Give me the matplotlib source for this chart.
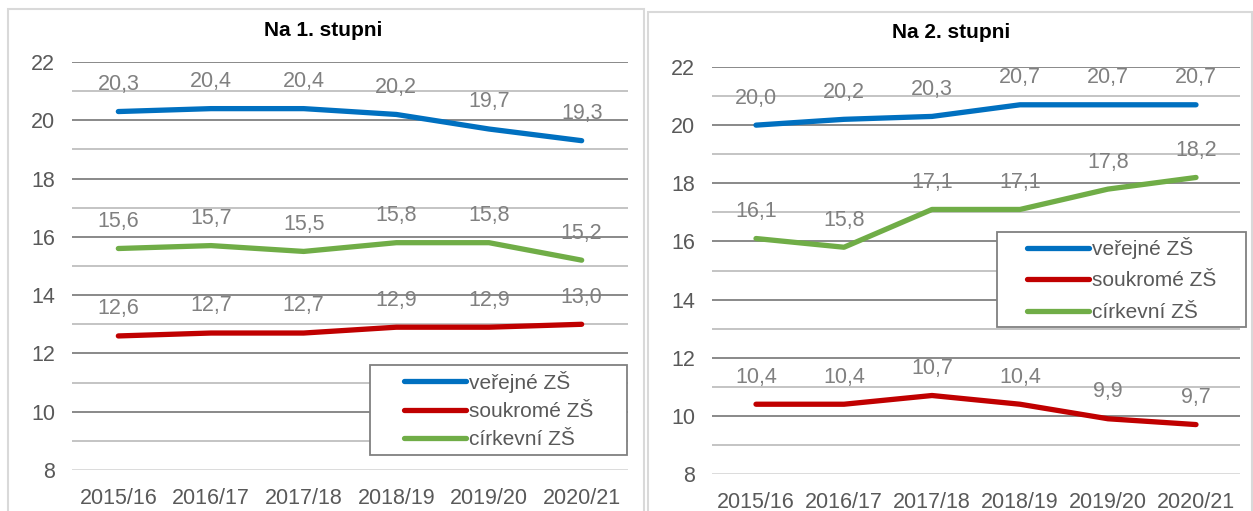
import matplotlib.pyplot as plt
from matplotlib.patches import Rectangle

plt.rcParams['font.family'] = ['Liberation Sans', 'DejaVu Sans']

years = ['2015/16', '2016/17', '2017/18', '2018/19', '2019/20', '2020/21']
series_names = ['veřejné ZŠ', 'soukromé ZŠ', 'církevní ZŠ']
colors = ['#0070C0', '#C00000', '#70AD47']

# Na 1. stupni
st1_verejne = [20.3, 20.4, 20.4, 20.2, 19.7, 19.3]
st1_soukrome = [12.6, 12.7, 12.7, 12.9, 12.9, 13.0]
st1_cirkevni = [15.6, 15.7, 15.5, 15.8, 15.8, 15.2]

# Na 2. stupni
st2_verejne = [20.0, 20.2, 20.3, 20.7, 20.7, 20.7]
st2_soukrome = [10.4, 10.4, 10.7, 10.4, 9.9, 9.7]
st2_cirkevni = [16.1, 15.8, 17.1, 17.1, 17.8, 18.2]

W, H = 1253, 511
fig = plt.figure(figsize=(W / 100, H / 100), dpi=100)


def px_rect(x0, y0, x1, y1):
    return [x0 / W, 1 - y1 / H, (x1 - x0) / W, (y1 - y0) / H]


# panel borders
for x0, y0, x1 in [(8, 9, 644), (648, 12, 1252)]:
    fig.patches.append(Rectangle((x0 / W, -0.1), (x1 - x0) / W, 1 - y0 / H + 0.1,
                                 transform=fig.transFigure, fill=False,
                                 edgecolor='#D9D9D9', linewidth=1.5))


def draw_panel(rect, title, title_x, title_y, data, legend_box, spacing):
    ax = fig.add_axes(rect)
    x = list(range(len(years)))
    for vals, name, c in zip(data, series_names, colors):
        ax.plot(x, vals, color=c, linewidth=3.8, solid_capstyle='round', label=name, zorder=3)
        for xi, v in zip(x, vals):
            ax.annotate(f'{v:.1f}'.replace('.', ','), (xi, v), xytext=(0, 19.5),
                        textcoords='offset points', ha='center', va='center',
                        fontsize=15.5, color='#808080', zorder=4)
    ax.set_xlim(-0.5, len(years) - 0.5)
    ax.set_ylim(8, 22)
    ax.set_yticks(range(8, 23, 2))
    for v in range(9, 22, 2):
        ax.axhline(v, color='#BFBFBF', linewidth=1.3, zorder=1)
    for v in range(10, 23, 2):
        ax.axhline(v, color='#808080', linewidth=1.3, zorder=1)
    ax.axhline(8, color='#D9D9D9', linewidth=1.3, zorder=1)
    for s in ax.spines.values():
        s.set_visible(False)
    ax.set_xticks(x)
    ax.set_xticklabels(years)
    ax.tick_params(axis='both', length=0, labelsize=15.5, colors='#595959')
    ax.tick_params(axis='y', pad=12)
    ax.tick_params(axis='x', pad=13)
    fig.text(title_x / W, 1 - title_y / H, title, ha='center', va='center',
             fontsize=15, fontweight='bold', color='black')

    bx0, by0, bx1, by1 = legend_box
    ax.add_patch(Rectangle((bx0, by0), bx1 - bx0, by1 - by0, transform=ax.transAxes,
                           fill=True, facecolor='white', edgecolor='#808080',
                           linewidth=1.3, clip_on=False, zorder=5))
    leg = ax.legend(loc='center', bbox_to_anchor=((bx0 + bx1) / 2, (by0 + by1) / 2),
                    frameon=False, fontsize=15, handlelength=3.0, handletextpad=0.1,
                    labelspacing=spacing, borderaxespad=0)
    leg.set_zorder(6)
    for t in leg.get_texts():
        t.set_color('#595959')
    for ln in leg.get_lines():
        ln.set_linewidth(3.8)
    return ax


draw_panel(px_rect(72, 62, 628, 470), 'Na 1. stupni', 323, 30,
           [st1_verejne, st1_soukrome, st1_cirkevni], (0.536, 0.037, 0.998, 0.257), 0.45)
draw_panel(px_rect(712, 67, 1240, 474), 'Na 2. stupni', 951, 32,
           [st2_verejne, st2_soukrome, st2_cirkevni], (0.540, 0.361, 1.011, 0.595), 0.6)

fig.savefig('out.png', dpi=100)
